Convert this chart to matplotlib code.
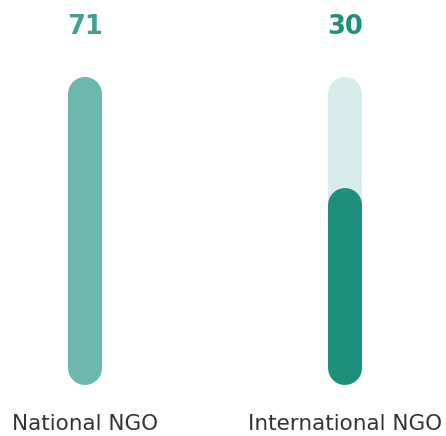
import matplotlib
matplotlib.use("Agg")
import matplotlib.pyplot as plt

# ---- data ----
categories = ["National NGO", "International NGO"]
values = [71, 30]              # numbers shown above the bars
fill_pct = [100, 64]           # filled share of each bar track (%)
track_pct = [100, 100]         # full track height (%)
fill_colors = ["#6db7af", "#1e8f7b"]
value_colors = ["#41a094", "#1e8f7b"]
track_color = "#d8ecea"

DPI = 100
W, H = 446, 436
fig = plt.figure(figsize=(W / DPI, H / DPI), dpi=DPI)
ax = fig.add_axes([0, 0, 1, 1])

# pixel mapping
x0_px, x1_px = 85, 345
xs = (x1_px - x0_px)            # px per category unit
y0_px, y100_px = 385, 77        # pixel rows (from top) of 0 and 100
ys = (y0_px - y100_px) / 100.0  # px per data unit
ax.set_xlim(-x0_px / xs, (W - x0_px) / xs)
ax.set_ylim(-(H - y0_px) / ys, 100 + y100_px / ys)
ax.axis("off")

bar_px = 34
lw = bar_px * 72 / DPI
r = (bar_px / 2) / ys  # cap radius in data units

for i, cat in enumerate(categories):
    # track
    ax.plot([i, i], [0 + r, track_pct[i] - r], color=track_color, lw=lw,
            solid_capstyle="round", zorder=1)
    # fill
    ax.plot([i, i], [0 + r, fill_pct[i] - r], color=fill_colors[i], lw=lw,
            solid_capstyle="round", zorder=2)
    # value label
    ax.text(i, track_pct[i] + 43.5 / ys, str(values[i]), ha="center",
            va="baseline", fontsize=18.5, fontweight="bold",
            color=value_colors[i], family="DejaVu Sans")
    # category label
    ax.text(i, -45 / ys, cat, ha="center", va="baseline", fontsize=15.5,
            color="#333333", family="DejaVu Sans")

fig.savefig("out.png", dpi=DPI, facecolor="white")
